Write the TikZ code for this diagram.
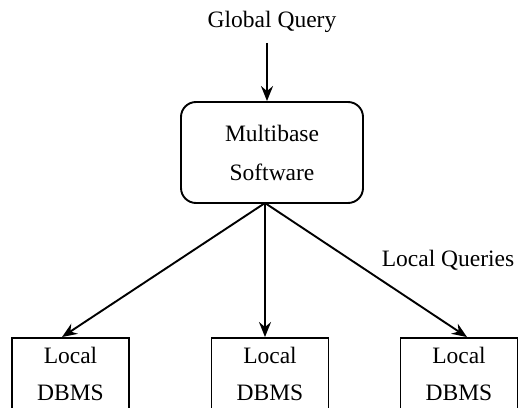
\documentclass[tikz,border=0pt]{standalone}
\usepackage{fontspec}
\setmainfont{Liberation Serif}
\usetikzlibrary{arrows.meta,calc}
\begin{document}
\begin{tikzpicture}[x=1pt,y=1pt,
  lbl/.style={font=\fontsize{23.5}{39}\selectfont, inner sep=0pt},
  mbox/.style={draw, line width=1.9pt, rounded corners=15pt, minimum width=182pt, minimum height=101pt, align=center, font=\fontsize{23.5}{39}\selectfont, inner sep=0pt},
  dbox/.style={draw, line width=1.9pt, minimum width=117pt, minimum height=71pt, align=center, font=\fontsize{23.5}{37}\selectfont, inner sep=0pt},
  arr/.style={line width=1.9pt, -{Stealth[length=15pt,width=12pt,inset=5pt]}}]
\useasboundingbox (0,0) rectangle (532,407);
\clip (0,0) rectangle (532,407);
\node[lbl] (gq) at (272,385) {Global Query};
\node[mbox] (mb) at (272,254.5) {Multibase\\Software};
\node[dbox] (d1) at (70.5,33.5) {Local\\DBMS};
\node[dbox] (d2) at (270,33.5) {Local\\DBMS};
\node[dbox] (d3) at (459,33.5) {Local\\DBMS};
\node[lbl] (lq) at (448,147) {Local Queries};
\coordinate (gqs) at (267,364);
\coordinate (hub) at (265,204);
\draw[arr] (gqs) -- (gqs |- mb.north);
\draw[arr] (hub) -- ($(d1.north)+(-8.5,0)$);
\draw[arr] (hub) -- ($(d2.north)+(-5,0)$);
\draw[arr] (hub) -- ($(d3.north)+(8,0)$);
\end{tikzpicture}
\end{document}
